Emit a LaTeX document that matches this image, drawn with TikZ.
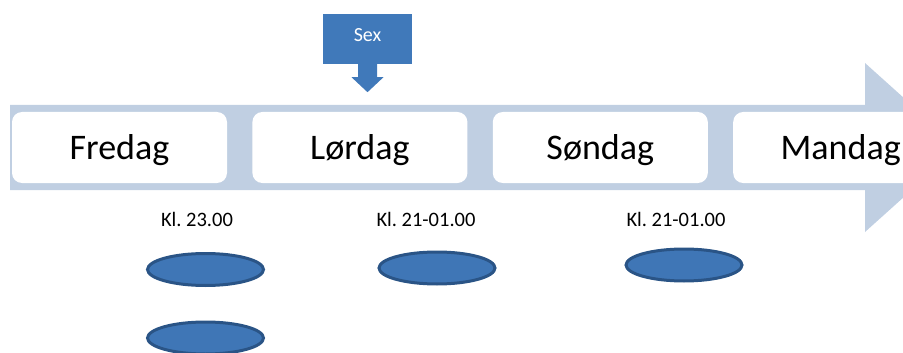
\documentclass[tikz,border=0pt]{standalone}
\usepackage{fontspec}
\setmainfont{Carlito}
\usetikzlibrary{positioning,shapes.geometric}

\definecolor{bandblue}{RGB}{192,207,226}
\definecolor{calloutblue}{RGB}{64,121,186}
\definecolor{ovalfill}{RGB}{63,118,182}
\definecolor{ovalline}{RGB}{42,84,134}
\frenchspacing

\begin{document}
\begin{tikzpicture}[x=1pt,y=-1pt,node distance=25pt,
    daybox/.style={fill=white,rounded corners=10pt,minimum width=215pt,minimum height=71pt,
      inner sep=0pt,font=\fontsize{36}{40}\selectfont,text height=23pt,text depth=0pt},
    timelabel/.style={inner sep=0pt,font=\fontsize{20.5}{24}\selectfont,text height=14pt,text depth=0pt},
    oval/.style={ellipse,draw=ovalline,fill=ovalfill,line width=3pt,minimum width=116pt,
      minimum height=32pt,inner sep=0pt},
    callout/.style={fill=calloutblue,text=white,minimum width=89pt,minimum height=50pt,inner sep=0pt,
      font=\fontsize{20}{24}\selectfont,text height=13pt,text depth=8pt}]
    \useasboundingbox (0,0) rectangle (903,353);
    \clip (0,0) rectangle (903,353);
    % timeline arrow
    \fill[bandblue] (10,105) -- (865,105) -- (865,63) -- (959,147.5) -- (865,232) -- (865,190) -- (10,190) -- cycle;
    % days
    \node[daybox] (fre) at (119.5,147.5) {Fredag};
    \node[daybox,right=of fre] (lor) {Lørdag};
    \node[daybox,right=of lor] (son) {Søndag};
    \node[daybox,right=of son] (man) {Mandag};
    % callout
    \node[callout] (sex) at (367.5,39) {Sex};
    \fill[calloutblue] (sex.south) ++(-9.5,0) -- ++(0,13) -- ++(-6.5,0) -- ++(16,15) -- ++(16,-15)
      -- ++(-6.5,0) -- ++(0,-13) -- cycle;
    % times
    \node[timelabel] (kfre) at (197,219) {Kl. 23.00};
    \node[timelabel] (klor) at (426,219) {Kl. 21-01.00};
    \node[timelabel] (kson) at (676,219) {Kl. 21-01.00};
    \node[oval] (ofre) at (205.5,269.5) {};
    \node[oval] (ofre2) at (205.5,338) {};
    \node[oval] (olor) at (437,268) {};
    \node[oval] (oson) at (684,265) {};
  \end{tikzpicture}
\end{document}
